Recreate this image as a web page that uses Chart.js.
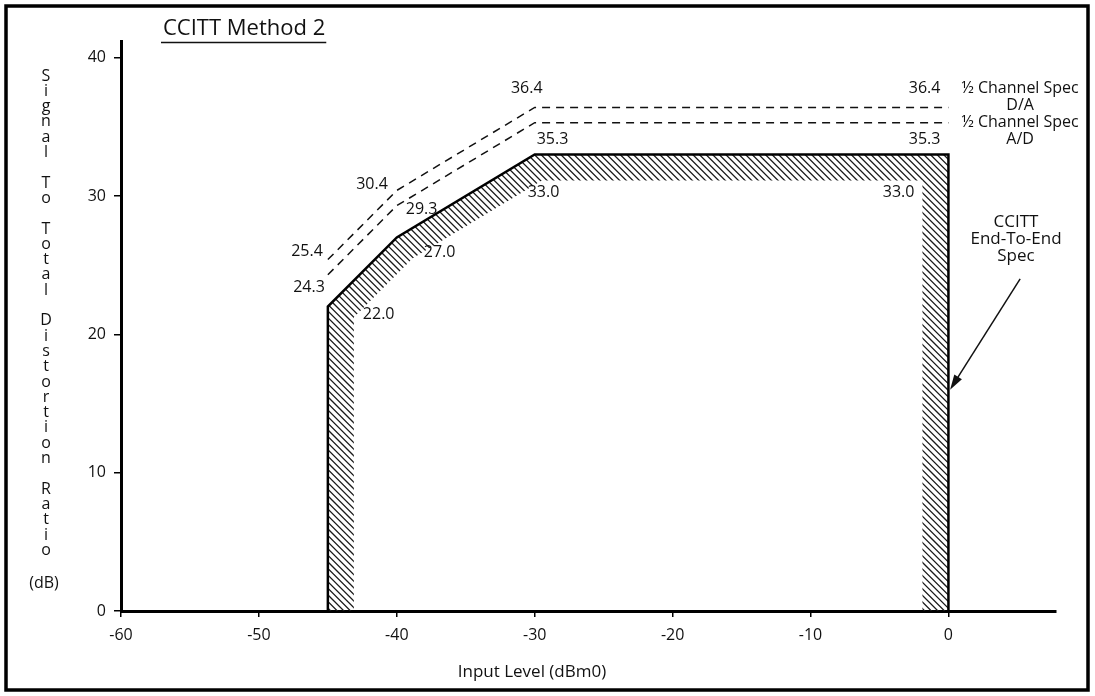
<!DOCTYPE html>
<html>
<head>
<meta charset="utf-8">
<script src="https://cdn.jsdelivr.net/npm/chart.js@4.4.1/dist/chart.umd.min.js"></script>
<style>
  html, body { margin: 0; padding: 0; background: #fff; }
  #wrap { position: relative; width: 1095px; height: 696px; }
  canvas { display: block; }
</style>
</head>
<body>
<div id="wrap"><canvas id="c" width="1095" height="696"></canvas></div>
<script>
// Input levels (dBm0) at the break points of each spec curve
const inputLevel = [-45, -40, -30, 0];
// Signal to total distortion ratio (dB)
const halfChannelDA = [25.4, 30.4, 36.4, 36.4];
const halfChannelAD = [24.3, 29.3, 35.3, 35.3];
const endToEnd = [22.0, 27.0, 33.0, 33.0];
// Axis ticks
const xTicks = [-60, -50, -40, -30, -20, -10, 0];
const yTicks = [0, 10, 20, 30, 40];
// Axis ranges
const xRange = [-60, 7.8];
const yRange = [0, 41.2];
// Annotation arrow (data units): from the note down to the spec edge
const arrowFrom = [5.2, 24.0];
const arrowTo = [0.12, 16.0];

const FONT = "'Open Sans', 'DejaVu Sans', sans-serif";
const INK = '#111';

const toPts = ys => inputLevel.map((x, i) => ({ x, y: ys[i] }));
// The end-to-end spec outline drops to the axis at both ends
const endToEndOutline = [{ x: inputLevel[0], y: 0 }, ...toPts(endToEnd), { x: inputLevel[inputLevel.length - 1], y: 0 }];

// Value labels: dataset, point, alignment and offset in px from the point
const valueLabels = [
  { ds: 0, i: 0, align: 'right', dx: -5, dy: -8 },
  { ds: 0, i: 1, align: 'right', dx: -9, dy: -6 },
  { ds: 0, i: 2, align: 'center', dx: -8, dy: -19 },
  { ds: 0, i: 3, align: 'right', dx: -8, dy: -19 },
  { ds: 1, i: 0, align: 'right', dx: -3, dy: 13 },
  { ds: 1, i: 1, align: 'left', dx: 9, dy: 4 },
  { ds: 1, i: 2, align: 'left', dx: 2, dy: 17 },
  { ds: 1, i: 3, align: 'right', dx: -8, dy: 17 },
  { ds: 2, i: 1, align: 'left', dx: 35, dy: 8 },
  { ds: 2, i: 2, align: 'left', dx: 27, dy: 15 },
  { ds: 2, i: 3, align: 'left', dx: -7, dy: 38 },
  { ds: 2, i: 4, align: 'right', dx: -34, dy: 38 }
];

// Diagonal hatching inside the end-to-end outline
const hatchPlugin = {
  id: 'hatchBand',
  beforeDatasetsDraw(chart) {
    const meta = chart.getDatasetMeta(2);
    const pts = meta.data.map(p => [p.x, p.y]);
    const w = chart.width, h = chart.height;
    const off = document.createElement('canvas');
    off.width = w; off.height = h;
    const o = off.getContext('2d');
    o.beginPath();
    pts.forEach(([x, y], k) => k ? o.lineTo(x, y) : o.moveTo(x, y));
    o.closePath();
    o.clip();
    o.beginPath();
    pts.forEach(([x, y], k) => k ? o.lineTo(x, y) : o.moveTo(x, y));
    o.lineWidth = 52;
    o.lineJoin = 'miter';
    o.strokeStyle = '#000';
    o.stroke();
    o.globalCompositeOperation = 'source-in';
    o.beginPath();
    for (let k = -h; k < w; k += 6.6) {
      o.moveTo(k, 0);
      o.lineTo(k + h, h);
    }
    o.lineWidth = 1.3;
    o.strokeStyle = '#1a1a1a';
    o.stroke();
    chart.ctx.drawImage(off, 0, 0, w, h);
  }
};

const textPlugin = {
  id: 'texts',
  afterDraw(chart) {
    const { ctx } = chart;
    const xs = chart.scales.x, ys = chart.scales.y;
    ctx.save();
    ctx.fillStyle = INK;
    ctx.textBaseline = 'middle';

    // value labels
    ctx.font = `16px ${FONT}`;
    valueLabels.forEach(l => {
      const p = chart.getDatasetMeta(l.ds).data[l.i];
      const v = chart.data.datasets[l.ds].data[l.i].y;
      ctx.textAlign = l.align;
      ctx.fillText(v.toFixed(1), p.x + l.dx, p.y + l.dy);
    });

    // curve names to the right of the dashed lines
    const nx = xs.getPixelForValue(5.2);
    const yDA = ys.getPixelForValue(halfChannelDA[3]);
    const yAD = ys.getPixelForValue(halfChannelAD[3]);
    ctx.textAlign = 'center';
    ctx.font = `16px ${FONT}`;
    ctx.fillText('½ Channel Spec', nx, yDA - 19);
    ctx.fillText('D/A', nx, yDA - 2);
    ctx.fillText('½ Channel Spec', nx, yAD);
    ctx.fillText('A/D', nx, yAD + 17);
    ctx.font = `17px ${FONT}`;
    const cx = xs.getPixelForValue(4.9);
    const cy = ys.getPixelForValue(28.1);
    ctx.fillText('CCITT', cx, cy);
    ctx.fillText('End-To-End', cx, cy + 17);
    ctx.fillText('Spec', cx, cy + 34);

    // arrow
    const ax0 = xs.getPixelForValue(arrowFrom[0]), ay0 = ys.getPixelForValue(arrowFrom[1]);
    const ax1 = xs.getPixelForValue(arrowTo[0]), ay1 = ys.getPixelForValue(arrowTo[1]);
    const ang = Math.atan2(ay1 - ay0, ax1 - ax0);
    ctx.strokeStyle = INK;
    ctx.lineWidth = 1.5;
    ctx.beginPath();
    ctx.moveTo(ax0, ay0);
    ctx.lineTo(ax1 - 10 * Math.cos(ang), ay1 - 10 * Math.sin(ang));
    ctx.stroke();
    ctx.beginPath();
    ctx.moveTo(ax1, ay1);
    ctx.lineTo(ax1 - 15 * Math.cos(ang) + 4.5 * Math.sin(ang), ay1 - 15 * Math.sin(ang) - 4.5 * Math.cos(ang));
    ctx.lineTo(ax1 - 15 * Math.cos(ang) - 4.5 * Math.sin(ang), ay1 - 15 * Math.sin(ang) + 4.5 * Math.cos(ang));
    ctx.closePath();
    ctx.fill();

    // title, underlined
    ctx.font = `22px ${FONT}`;
    ctx.textAlign = 'left';
    const title = 'CCITT Method 2';
    const tx = 163, ty = 29;
    ctx.fillText(title, tx, ty);
    const tw = ctx.measureText(title).width;
    ctx.lineWidth = 1.6;
    ctx.beginPath();
    ctx.moveTo(tx - 2, 42.5);
    ctx.lineTo(tx + tw + 1, 42.5);
    ctx.stroke();

    // stacked y-axis title
    ctx.font = `16px ${FONT}`;
    ctx.textAlign = 'center';
    const yTitle = 'Signal To Total Distortion Ratio';
    const step = 15.3;
    [...yTitle].forEach((ch, k) => {
      if (ch !== ' ') ctx.fillText(ch, 46, 76 + k * step);
    });
    ctx.fillText('(dB)', 44, 583);

    // x-axis title
    ctx.font = `17px ${FONT}`;
    ctx.fillText('Input Level (dBm0)', xs.getPixelForValue(-30.2), 672);

    // frame
    ctx.lineWidth = 3.5;
    ctx.strokeStyle = '#000';
    ctx.strokeRect(6, 6, 1082, 684);
    ctx.restore();
  }
};

const scaleTicks = (values) => (scale) => {
  scale.ticks = values.map(v => ({ value: v }));
};

new Chart(document.getElementById('c'), {
  type: 'line',
  data: {
    datasets: [
      {
        label: '½ Channel Spec D/A',
        data: toPts(halfChannelDA),
        borderColor: INK, borderWidth: 1.5, borderDash: [8, 6],
        pointRadius: 0, tension: 0, fill: false
      },
      {
        label: '½ Channel Spec A/D',
        data: toPts(halfChannelAD),
        borderColor: INK, borderWidth: 1.5, borderDash: [8, 6],
        pointRadius: 0, tension: 0, fill: false
      },
      {
        label: 'CCITT End-To-End Spec',
        data: endToEndOutline,
        borderColor: '#000', borderWidth: 2.5,
        pointRadius: 0, tension: 0, fill: false, borderJoinStyle: 'miter'
      }
    ]
  },
  options: {
    responsive: false,
    animation: false,
    devicePixelRatio: 1,
    layout: { padding: { top: 41, right: 39, left: 0, bottom: 0 } },
    plugins: { legend: { display: false }, tooltip: { enabled: false } },
    scales: {
      x: {
        type: 'linear',
        min: xRange[0], max: xRange[1],
        afterBuildTicks: scaleTicks(xTicks),
        afterFit: s => { s.height = 85; },
        border: { display: true, color: '#000', width: 3 },
        grid: { display: true, drawOnChartArea: false, drawTicks: true, tickLength: 6, color: '#000', lineWidth: 1.5 },
        ticks: { color: INK, font: { family: FONT, size: 16 }, padding: 9, maxRotation: 0,
                 callback: v => String(v) }
      },
      y: {
        type: 'linear',
        min: yRange[0], max: yRange[1],
        afterBuildTicks: scaleTicks(yTicks),
        afterFit: s => { s.width = 121; },
        border: { display: true, color: '#000', width: 3 },
        grid: { display: true, drawOnChartArea: false, drawTicks: true, tickLength: 7, color: '#000', lineWidth: 1.5 },
        ticks: { color: INK, font: { family: FONT, size: 16 }, padding: 8,
                 callback: v => String(v) }
      }
    }
  },
  plugins: [hatchPlugin, textPlugin]
});
</script>
</body>
</html>
